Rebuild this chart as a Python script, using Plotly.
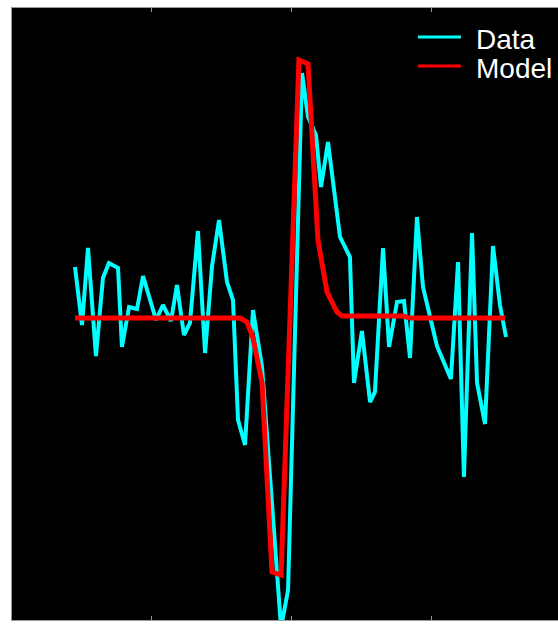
import plotly.graph_objects as go

# Observed signal
data_t = [0.451, 0.501, 0.544, 0.601, 0.651, 0.694, 0.759, 0.787, 0.838, 0.895,
          0.938, 1.031, 1.081, 1.138, 1.181, 1.231, 1.274, 1.331, 1.382, 1.432,
          1.482, 1.539, 1.582, 1.618, 1.668, 1.725, 1.790, 1.926, 1.976, 2.076,
          2.119, 2.176, 2.212, 2.262, 2.348, 2.419, 2.448, 2.505, 2.563, 2.598,
          2.656, 2.699, 2.756, 2.806, 2.849, 2.899, 2.942, 3.042, 3.142, 3.193,
          3.235, 3.293, 3.329, 3.386, 3.443, 3.493, 3.536]
data_y = [0.51, -0.07, 0.70, -0.38, 0.40, 0.55, 0.50, -0.29, 0.11, 0.09,
          0.42, -0.02, 0.13, -0.03, 0.33, -0.17, -0.05, 0.87, -0.35, 0.52,
          0.98, 0.36, 0.18, -1.02, -1.27, 0.08, -0.49, -3.10, -2.72, 2.45,
          2.01, 1.83, 1.31, 1.76, 0.81, 0.61, -0.65, -0.13, -0.84, -0.74,
          0.70, -0.29, 0.16, 0.17, -0.40, 1.01, 0.31, -0.28, -0.61, 0.56,
          -1.59, 0.85, -0.65, -1.06, 0.72, 0.13, -0.19]

# Fitted model
model_t = [0.451, 1.632, 1.682, 1.725, 1.790, 1.861, 1.926, 2.054, 2.119,
           2.190, 2.255, 2.326, 2.362, 2.799, 2.849, 3.529]
model_y = [0.0, 0.0, -0.04, -0.20, -0.65, -2.54, -2.57, 2.58, 2.54,
           0.78, 0.26, 0.06, 0.02, 0.02, 0.0, 0.0]

x_ticks = [1, 2, 3]
legend_names = ["Data", "Model"]
legend_colors = ["#00ffff", "#ff0000"]

fig = go.Figure()
fig.add_trace(go.Scatter(x=data_t, y=data_y, mode="lines", name="Data",
                         line=dict(color="#00ffff", width=4), showlegend=False))
fig.add_trace(go.Scatter(x=model_t, y=model_y, mode="lines", name="Model",
                         line=dict(color="#ff0000", width=5), showlegend=False))

fig.update_layout(
    width=558, height=625,
    margin=dict(l=12, r=0, t=8, b=5),
    paper_bgcolor="white",
    plot_bgcolor="black",
    font=dict(family="Liberation Sans, Arial, sans-serif"),
    xaxis=dict(range=[0, 3.9084], tickvals=x_ticks, showticklabels=False,
               ticks="inside", ticklen=4, tickcolor="#9a9a9a", tickwidth=1,
               showline=True, linecolor="#9a9a9a", linewidth=1, mirror="ticks",
               showgrid=False, zeroline=False),
    yaxis=dict(range=[-3.02, 3.10], showticklabels=False, ticks="",
               showline=True, linecolor="#9a9a9a", linewidth=1,
               showgrid=False, zeroline=False),
)

# Legend key: short line samples with labels
legend_rows = [0.9526, 0.9052]
for name, color, yl in zip(legend_names, legend_colors, legend_rows):
    fig.add_shape(type="line", xref="paper", yref="paper",
                  x0=0.7436, x1=0.8223, y0=yl, y1=yl,
                  line=dict(color=color, width=3))
    fig.add_annotation(xref="paper", yref="paper", x=0.8461, y=yl - 0.004,
                       xanchor="left", yanchor="middle", showarrow=False,
                       text=name, font=dict(color="white", size=28,
                                            family="Liberation Sans, Arial, sans-serif"))

fig.write_html("out.html")
